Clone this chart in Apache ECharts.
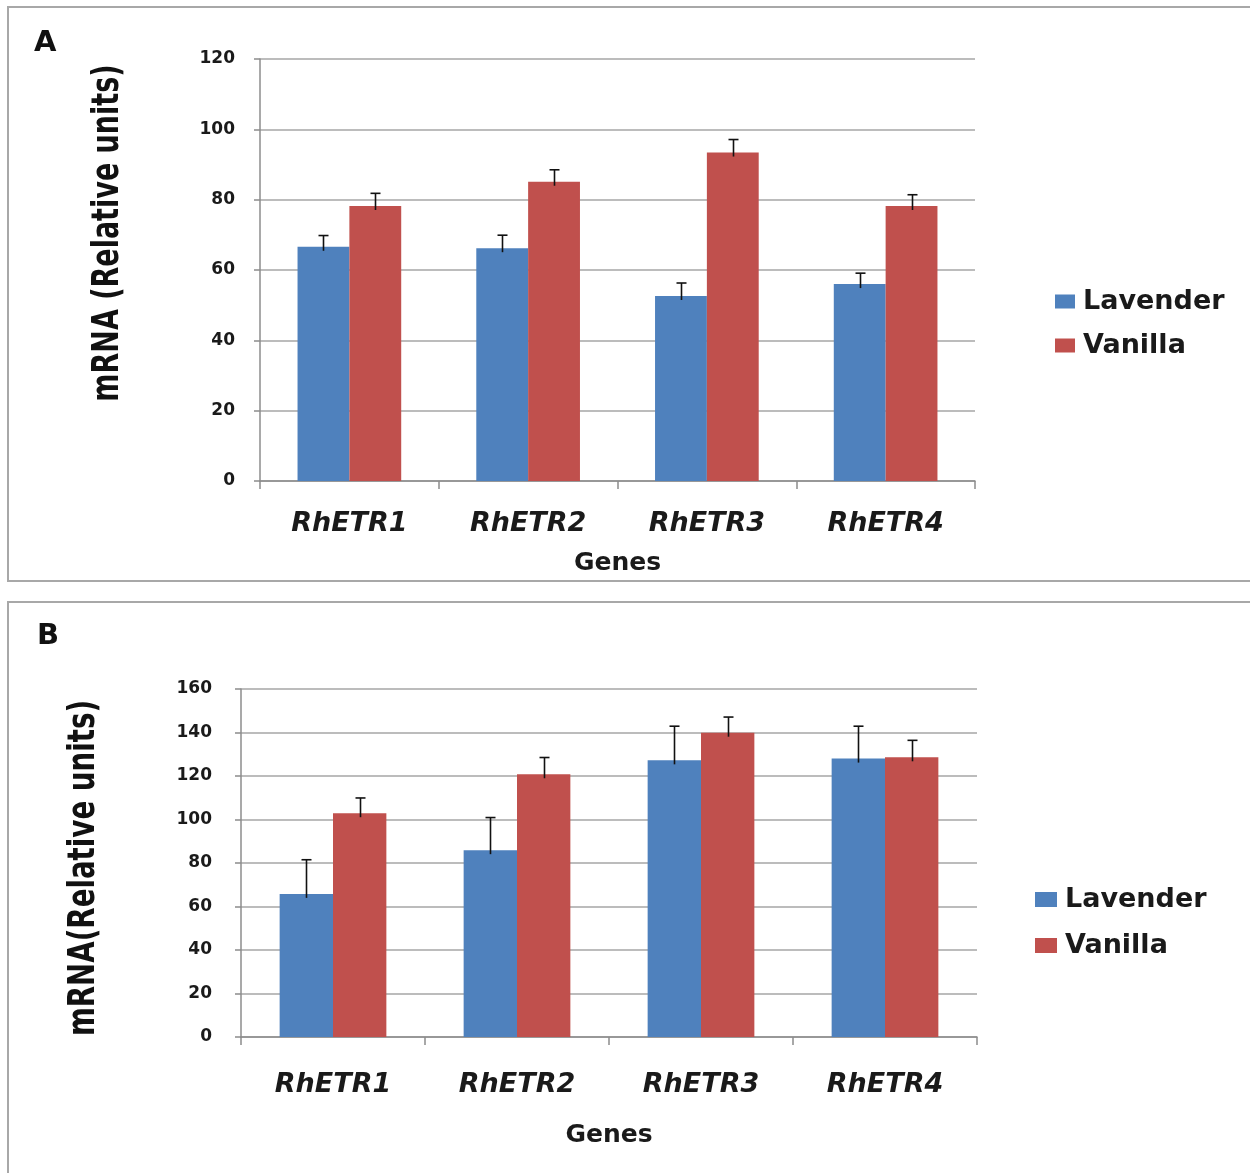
<!DOCTYPE html>
<html>
<head>
<meta charset="utf-8">
<script src="https://cdn.jsdelivr.net/npm/echarts@6/dist/echarts.min.js"></script>
<style>
html,body{margin:0;padding:0;background:#fff;}
#c{width:1250px;height:1173px;}
</style>
</head>
<body>
<div id="c"></div>
<script>
var genes = ['RhETR1', 'RhETR2', 'RhETR3', 'RhETR4'];
var seriesNames = ['Lavender', 'Vanilla'];

// Panel A
var aLavender = [66.6, 66.2, 52.6, 56.0];
var aLavenderErr = [3.2, 3.7, 3.7, 3.1];
var aVanilla = [78.2, 85.1, 93.4, 78.2];
var aVanillaErr = [3.6, 3.4, 3.7, 3.2];
var aTicks = [0, 20, 40, 60, 80, 100, 120];

// Panel B
var bLavender = [65.8, 85.9, 127.2, 128.0];
var bLavenderErr = [15.7, 15.0, 15.7, 14.9];
var bVanilla = [102.9, 120.8, 139.9, 128.6];
var bVanillaErr = [7.0, 7.7, 7.2, 7.8];
var bTicks = [0, 20, 40, 60, 80, 100, 120, 140, 160];

var BLUE = '#4F81BD', RED = '#C0504D';
var BAR_FRAC = 0.29;
var WIDE = 'DejaVu Sans, Verdana, sans-serif';
var NARROW = '"Liberation Sans Narrow", "DejaVu Sans Condensed", "Arial Narrow", sans-serif';

function errData(lav, lavErr, van, vanErr) {
  var d = [];
  for (var i = 0; i < genes.length; i++) {
    d.push([i, lav[i], lavErr[i], 0]);
    d.push([i, van[i], vanErr[i], 1]);
  }
  return d;
}

function renderErr(params, api) {
  var ci = api.value(0), v = api.value(1), e = api.value(2), side = api.value(3);
  var band = api.size([1, 0])[0];
  var bw = band * BAR_FRAC;
  var base = api.coord([ci, v]);
  var top = api.coord([ci, v + e]);
  var x = Math.round(base[0] + (side === 0 ? -bw / 2 : bw / 2)) + 0.5;
  var st = { stroke: '#111', lineWidth: 1.6 };
  return {
    type: 'group',
    children: [
      { type: 'line', shape: { x1: x, y1: base[1] + 4, x2: x, y2: top[1] }, style: st },
      { type: 'line', shape: { x1: x - 5, y1: top[1], x2: x + 5, y2: top[1] }, style: st }
    ]
  };
}

function yAxisCfg(gi, ticks, margin) {
  return {
    type: 'value', gridIndex: gi, min: ticks[0], max: ticks[ticks.length - 1],
    interval: ticks[1] - ticks[0],
    axisLine: { show: true, lineStyle: { color: '#8c8c8c', width: 1.5 } },
    axisTick: { show: true, length: 6, lineStyle: { color: '#8c8c8c', width: 1.5 } },
    axisLabel: { margin: margin, color: '#1a1a1a', fontFamily: WIDE, fontWeight: 'bold', fontSize: 17 },
    splitLine: { show: true, lineStyle: { color: '#a6a6a6', width: 1.5 } }
  };
}

function xAxisCfg(gi, labelMargin, nameGap) {
  return {
    type: 'category', gridIndex: gi, data: genes,
    name: 'Genes', nameLocation: 'middle', nameGap: nameGap,
    nameTextStyle: { color: '#1a1a1a', fontFamily: WIDE, fontWeight: 'bold', fontSize: 25 },
    axisLine: { show: true, lineStyle: { color: '#8c8c8c', width: 1.5 } },
    axisTick: { show: true, length: 8, lineStyle: { color: '#8c8c8c', width: 1.5 } },
    axisLabel: { margin: labelMargin, color: '#1a1a1a', fontFamily: WIDE, fontWeight: 'bold', fontStyle: 'italic', fontSize: 27 },
    splitLine: { show: false }
  };
}

function legendCfg(left, top, gap, iw, ih) {
  return {
    orient: 'vertical', left: left, top: top, itemGap: gap,
    itemWidth: iw, itemHeight: ih, icon: 'rect',
    data: seriesNames,
    textStyle: { color: '#1a1a1a', fontFamily: WIDE, fontWeight: 'bold', fontSize: 27, padding: [0, 0, 0, 3] }
  };
}

var chart = echarts.init(document.getElementById('c'), null, { renderer: 'canvas' });
var option = {
  animation: false,
  backgroundColor: '#ffffff',
  grid: [
    { left: 260, top: 59, width: 715, height: 422 },
    { left: 241, top: 689, width: 736, height: 348 }
  ],
  xAxis: [xAxisCfg(0, 29, 70), xAxisCfg(1, 34, 86)],
  yAxis: [yAxisCfg(0, aTicks, 25), yAxisCfg(1, bTicks, 29)],
  legend: [
    legendCfg(1050, 283, 17, 20, 14),
    legendCfg(1030, 881, 19, 22, 15)
  ],
  series: [
    { name: 'Lavender', type: 'bar', xAxisIndex: 0, yAxisIndex: 0, data: aLavender, barWidth: (BAR_FRAC * 100) + '%', barGap: '0%', itemStyle: { color: BLUE } },
    { name: 'Vanilla', type: 'bar', xAxisIndex: 0, yAxisIndex: 0, data: aVanilla, barWidth: (BAR_FRAC * 100) + '%', barGap: '0%', itemStyle: { color: RED } },
    { name: 'Lavender', type: 'bar', xAxisIndex: 1, yAxisIndex: 1, data: bLavender, barWidth: (BAR_FRAC * 100) + '%', barGap: '0%', itemStyle: { color: BLUE } },
    { name: 'Vanilla', type: 'bar', xAxisIndex: 1, yAxisIndex: 1, data: bVanilla, barWidth: (BAR_FRAC * 100) + '%', barGap: '0%', itemStyle: { color: RED } },
    { name: 'errA', type: 'custom', xAxisIndex: 0, yAxisIndex: 0, renderItem: renderErr, encode: { x: 0, y: 1 }, z: 10,
      data: errData(aLavender, aLavenderErr, aVanilla, aVanillaErr), silent: true },
    { name: 'errB', type: 'custom', xAxisIndex: 1, yAxisIndex: 1, renderItem: renderErr, encode: { x: 0, y: 1 }, z: 10,
      data: errData(bLavender, bLavenderErr, bVanilla, bVanillaErr), silent: true }
  ],
  graphic: [
    { type: 'rect', shape: { x: 8, y: 7, width: 1260, height: 574 }, style: { fill: 'none', stroke: '#a8a8a8', lineWidth: 2 }, z: -10 },
    { type: 'rect', shape: { x: 8, y: 602, width: 1260, height: 600 }, style: { fill: 'none', stroke: '#a8a8a8', lineWidth: 2 }, z: -10 },
    { type: 'text', x: 34, y: 29, style: { text: 'A', fill: '#111', font: 'bold 29px ' + WIDE } },
    { type: 'text', x: 37, y: 622, style: { text: 'B', fill: '#111', font: 'bold 29px ' + WIDE } },
    { type: 'text', x: 108, y: 233, rotation: Math.PI / 2, scaleX: 0.79,
      style: { text: 'mRNA (Relative units)', fill: '#111', font: 'bold 38px ' + NARROW, align: 'center', verticalAlign: 'middle' } },
    { type: 'text', x: 84, y: 868, rotation: Math.PI / 2, scaleX: 0.81,
      style: { text: 'mRNA(Relative units)', fill: '#111', font: 'bold 38px ' + NARROW, align: 'center', verticalAlign: 'middle' } }
  ]
};
chart.setOption(option);
</script>
</body>
</html>
